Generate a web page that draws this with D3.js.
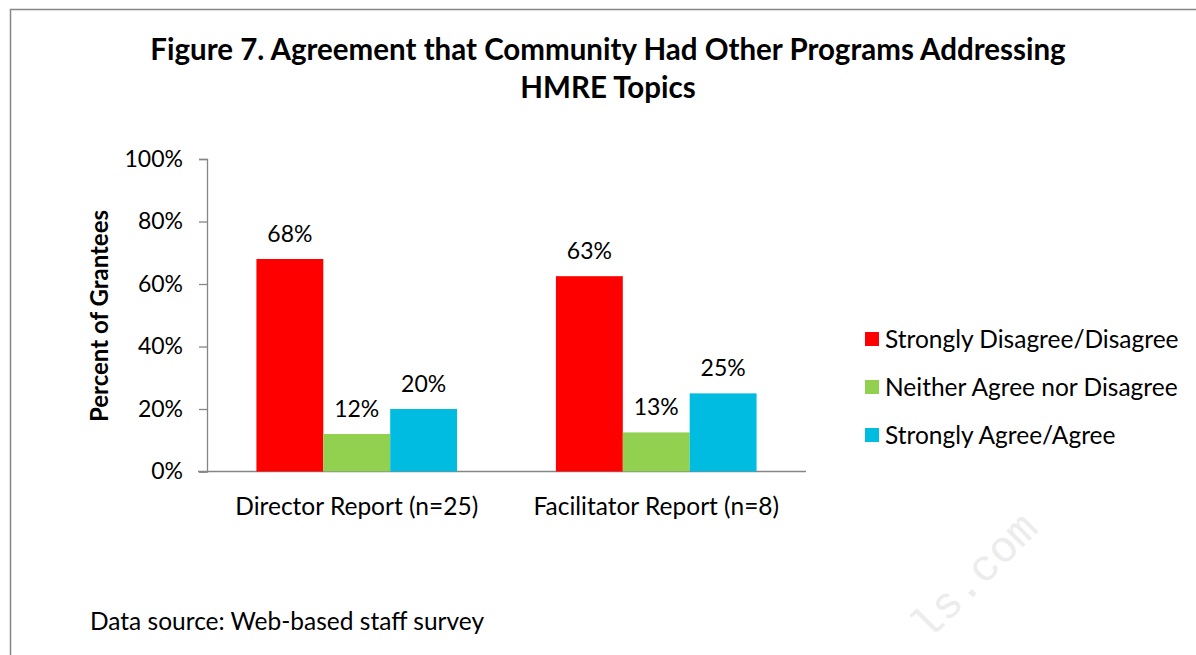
<!DOCTYPE html>
<html>
<head>
<meta charset="utf-8">
<script src="https://cdn.jsdelivr.net/npm/d3@7"></script>
<style>
  body { margin: 0; background: #fff; }
  svg { display: block; font-family: Lato, "Open Sans", sans-serif; }
</style>
</head>
<body>
<svg id="chart" width="1196" height="655"></svg>
<script>
var categories = ["Director Report (n=25)", "Facilitator Report (n=8)"];
var seriesNames = ["Strongly Disagree/Disagree", "Neither Agree nor Disagree", "Strongly Agree/Agree"];
var seriesColors = ["#ff0000", "#92d050", "#00bce0"];
var disagreeVals = [68, 62.5];
var neitherVals = [12, 12.5];
var agreeVals = [20, 25];
var yTicks = [0, 20, 40, 60, 80, 100];

var allSeries = [disagreeVals, neitherVals, agreeVals];

var svg = d3.select("#chart");

// frame
svg.append("path")
    .attr("d", "M10.5 655 L10.5 9.5 L1196 9.5")
    .attr("fill", "none").attr("stroke", "#868686").attr("stroke-width", 1.5);

// title
var title = svg.append("text").attr("text-anchor", "middle")
    .attr("font-weight", "bold").attr("font-size", 29.5).attr("fill", "#000");
title.append("tspan").attr("x", 608).attr("y", 60).text("Figure 7. Agreement that Community Had Other Programs Addressing");
title.append("tspan").attr("x", 608).attr("y", 98).text("HMRE Topics");

var plotLeft = 207, plotRight = 806, plotTop = 159, plotBottom = 471.5;

var x0 = d3.scaleBand().domain(categories).range([plotLeft, plotRight]).paddingInner(0.33).paddingOuter(0.165);
var x1 = d3.scaleBand().domain(d3.range(seriesNames.length)).range([0, x0.bandwidth()]);
var y = d3.scaleLinear().domain([0, 100]).range([plotBottom, plotTop]);

// y axis
var yAxis = svg.append("g").attr("transform", "translate(" + plotLeft + ",0)")
    .call(d3.axisLeft(y).tickValues(yTicks).tickSize(8).tickPadding(16)
        .tickFormat(function(d) { return d + "%"; }));
yAxis.select(".domain").attr("stroke", "#868686").attr("stroke-width", 1.3);
yAxis.selectAll(".tick line").attr("stroke", "#868686").attr("stroke-width", 1.3);
yAxis.selectAll(".tick text").attr("font-size", 23).attr("fill", "#000")
    .attr("font-family", "Lato, sans-serif");

// x axis
svg.append("line").attr("x1", 198).attr("x2", plotRight).attr("y1", plotBottom).attr("y2", plotBottom)
    .attr("stroke", "#868686").attr("stroke-width", 1.3);
svg.append("g").selectAll("text").data(categories).enter().append("text")
    .attr("x", function(d) { return x0(d) + x0.bandwidth() / 2; })
    .attr("y", 515).attr("text-anchor", "middle").attr("font-size", 24.5).attr("fill", "#000")
    .text(function(d) { return d; });

// y axis title
svg.append("text").attr("transform", "translate(108,316) rotate(-90)")
    .attr("text-anchor", "middle").attr("font-weight", "bold").attr("font-size", 24)
    .text("Percent of Grantees");

// bars
var groups = svg.append("g").selectAll("g").data(categories).enter().append("g")
    .attr("transform", function(d) { return "translate(" + x0(d) + ",0)"; });
groups.each(function(cat, ci) {
    var g = d3.select(this);
    allSeries.forEach(function(vals, si) {
        g.append("rect")
            .attr("x", x1(si)).attr("width", x1.bandwidth())
            .attr("y", y(vals[ci])).attr("height", plotBottom - y(vals[ci]))
            .attr("fill", seriesColors[si]);
        g.append("text")
            .attr("x", x1(si) + x1.bandwidth() / 2).attr("y", y(vals[ci]) - 17)
            .attr("text-anchor", "middle").attr("font-size", 23).attr("fill", "#000")
            .text(Math.round(vals[ci]) + "%");
    });
});

// legend
var legend = svg.append("g").selectAll("g").data(seriesNames).enter().append("g")
    .attr("transform", function(d, i) { return "translate(865," + (332 + i * 48) + ")"; });
legend.append("rect").attr("width", 14).attr("height", 14)
    .attr("fill", function(d, i) { return seriesColors[i]; });
legend.append("text").attr("x", 20).attr("y", 16).attr("font-size", 24.5)
    .text(function(d) { return d; });

// footnote
svg.append("text").attr("x", 90).attr("y", 630).attr("font-size", 24.5)
    .text("Data source: Web-based staff survey");

// faint watermark
svg.append("text").attr("transform", "translate(1040,530) rotate(-45)")
    .attr("text-anchor", "end").attr("font-family", "Liberation Mono, monospace")
    .attr("font-size", 44).attr("fill", "#ececec").text("ls.com");
</script>
</body>
</html>
